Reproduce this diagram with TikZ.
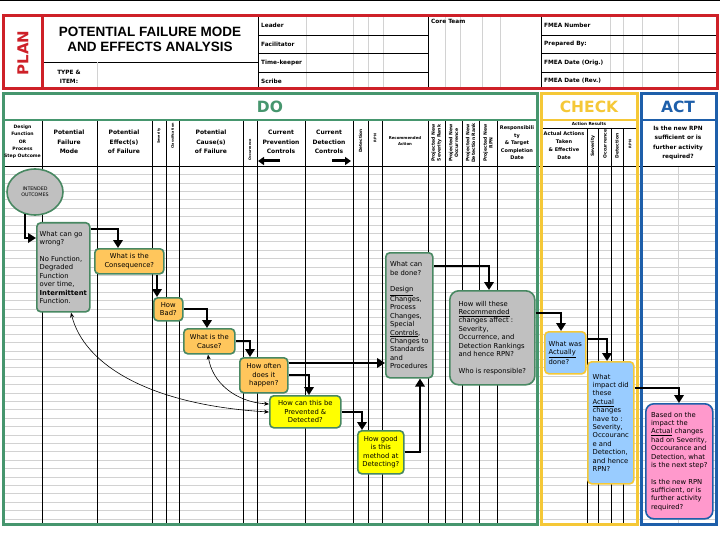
\documentclass[tikz,border=0pt]{standalone}
\usepackage{fontspec}
\setmainfont{DejaVu Sans}
\newfontfamily\titlefont{Liberation Sans}
\usetikzlibrary{arrows.meta,shapes.geometric}

\definecolor{planred}{RGB}{206,32,40}
\definecolor{dogreen}{RGB}{70,150,110}
\definecolor{checkyellow}{RGB}{245,200,55}
\definecolor{actblue}{RGB}{30,95,170}
\definecolor{edgegreen}{RGB}{72,136,98}
\definecolor{fillgray}{RGB}{192,192,192}
\definecolor{fillorange}{RGB}{255,198,92}
\definecolor{fillyellow}{RGB}{255,255,0}
\definecolor{fillblue}{RGB}{153,204,255}
\definecolor{fillpink}{RGB}{255,153,204}
\definecolor{gridline}{RGB}{210,210,210}

\begin{document}
\begin{tikzpicture}[x=1pt, y=-1pt,
		question/.style={rectangle, rounded corners=4pt, draw=edgegreen, line width=1.6pt, inner sep=2pt, align=center, anchor=north west, font=\fontsize{6.8}{8.4}\selectfont},
		orangebox/.style={question, fill=fillorange},
		yellowbox/.style={question, fill=fillyellow},
		graybox/.style={question, fill=fillgray, align=left},
		bluebox/.style={question, fill=fillblue, draw=checkyellow, align=left},
		pinkbox/.style={question, fill=fillpink, draw=actblue, align=left, rounded corners=8pt},
		colhead/.style={inner sep=0pt, align=center, font=\bfseries\fontsize{6}{9.5}\selectfont},
		sidehead/.style={inner sep=0pt, align=center, rotate=90, font=\bfseries\fontsize{#1}{#1}\selectfont},
		projhead/.style={inner sep=0pt, align=center, rotate=90, font=\bfseries\fontsize{4.6}{5.6}\selectfont},
		rowhead/.style={inner sep=0pt, anchor=west, font=\bfseries\fontsize{5.8}{7}\selectfont},
		phase/.style={inner sep=0pt, font=\bfseries\fontsize{15.5}{18}\selectfont},
		gridrule/.style={draw=gridline, line width=0.5pt},
		colrule/.style={draw=black, line width=0.6pt},
		hdrarrow/.style={line width=3pt, -{Triangle[length=6pt,width=8pt]}},
		backlink/.style={line width=0.6pt, {Stealth[length=5pt,width=4pt]}-{Stealth[length=5pt,width=4pt]}}
	]
	\useasboundingbox (0,0) rectangle (720,540);
	\fill[white] (0,0) rectangle (720,540);
	\draw[line width=1pt] (0,1) -- (720,1);

	\foreach \gy in {0,...,41}
		\draw[gridrule] (3,{174.4+8.4*\gy}) -- (717,{174.4+8.4*\gy});
	\foreach \gx in {306,353,368,383,445,460,482,500,610,623,642,678}
		\draw[gridrule] (\gx,16) -- (\gx,89);
	\draw[gridrule] (678,166) -- (678,524);

	\foreach \cx in {42,97,152,166,179,243,257,305,353,368,382,428,445,462,479,497}
		\draw[colrule] (\cx,120) -- (\cx,524);
	\foreach \cx in {587,598,611,623}
		\draw[colrule] (\cx,128) -- (\cx,524);
	\draw[colrule] (541,128) -- (637,128);
	\draw[colrule] (3,166) -- (716,166);

	\draw[colrule] (42,62) -- (258,62);
	\draw[gridrule] (97,62) -- (97,89);
	\draw[colrule] (258,16) -- (258,89);
	\draw[colrule] (428,16) -- (428,89);
	\draw[colrule] (541,16) -- (541,89);
	\foreach \ry in {35,53,72} {
		\draw[colrule] (258,\ry) -- (428,\ry);
		\draw[colrule] (541,\ry) -- (717,\ry);
	}

	\draw[planred, line width=3pt] (3,16) rectangle (717,89);
	\draw[planred, line width=3pt] (42,16) -- (42,89);
	\draw[dogreen, line width=3pt] (3,94) rectangle (537,524);
	\draw[dogreen, line width=2.5pt] (3,120) -- (537,120);
	\draw[checkyellow, line width=3pt] (541,94) rectangle (637,524);
	\draw[checkyellow, line width=2.5pt] (541,120) -- (637,120);
	\draw[actblue, line width=3pt] (641,94) rectangle (716,524);
	\draw[actblue, line width=2.5pt] (641,120) -- (716,120);

	\node[phase, rotate=90, text=planred, font=\bfseries\fontsize{15}{18}\selectfont] (plan) at (23,53) {PLAN};
	\node[inner sep=0pt, align=center, font=\titlefont\bfseries\fontsize{13.5}{15}\selectfont] (fmeatitle) at (150,39.5) {POTENTIAL FAILURE MODE\\AND EFFECTS ANALYSIS};
	\node[colhead, font=\bfseries\fontsize{5.8}{9}\selectfont] (typeitem) at (69,76.5) {TYPE \&\\ITEM:};
	\node[rowhead] (leader) at (261,25) {Leader};
	\node[rowhead] (facilitator) at (261,44) {Facilitator};
	\node[rowhead] (timekeeper) at (261,63) {Time-keeper};
	\node[rowhead] (scribe) at (261,81) {Scribe};
	\node[rowhead] (coreteam) at (431,21) {Core Team};
	\node[rowhead] (fmeanumber) at (544,25) {FMEA Number};
	\node[rowhead] (preparedby) at (544,44) {Prepared By:};
	\node[rowhead] (dateorig) at (544,63) {FMEA Date (Orig.)};
	\node[rowhead] (daterev) at (544,81) {FMEA Date (Rev.)};

	\node[phase, text=dogreen] (do) at (270,106.5) {DO};
	\node[phase, text=checkyellow] (check) at (589,106.5) {CHECK};
	\node[phase, text=actblue] (act) at (678,106.5) {ACT};

	\node[colhead, font=\bfseries\fontsize{4.6}{7.3}\selectfont] (designfunction) at (22.5,142) {Design\\Function\\OR\\Process\\Step Outcome};
	\node[colhead] (failuremode) at (69,142) {Potential\\Failure\\Mode};
	\node[colhead] (failureeffect) at (124,142) {Potential\\Effect(s)\\of Failure};
	\node[sidehead=3.4] (severity) at (159,136) {Severity};
	\node[sidehead=3.4] (classification) at (172.5,136) {Classification};
	\node[colhead] (failurecause) at (211,142) {Potential\\Cause(s)\\of Failure};
	\node[sidehead=3.4] (occurrence) at (250,150) {Occurrence};
	\node[colhead] (preventioncontrols) at (281,142) {Current\\Prevention\\Controls};
	\node[colhead] (detectioncontrols) at (329,142) {Current\\Detection\\Controls};
	\node[sidehead=4.3] (detection) at (360.5,141) {Detection};
	\node[sidehead=3.5] (rpn) at (375,138) {RPN};
	\node[colhead, font=\bfseries\fontsize{3.9}{6}\selectfont] (recommendedaction) at (405,141) {Recommended\\Action};
	\node[projhead] (newseverity) at (436.5,143) {Projected New\\Severity Rank};
	\node[projhead] (newoccurrence) at (453.5,143) {Projected New\\Occurrence};
	\node[projhead] (newdetection) at (470.5,143) {Projected New\\Detection Rank};
	\node[projhead] (newrpn) at (488,143) {Projected New\\RPN};
	\node[colhead, font=\bfseries\fontsize{5}{7.5}\selectfont] (responsibility) at (517,143) {Responsibili\\ty\\\& Target\\Completion\\Date};
	\node[colhead, font=\bfseries\fontsize{4.2}{5}\selectfont] (actionresults) at (589,124) {Action Results};
	\node[colhead, font=\bfseries\fontsize{5}{8}\selectfont] (actualactions) at (564,146) {Actual Actions\\Taken\\\& Effective\\Date};
	\node[sidehead=4.5] (checkseverity) at (593,146) {Severity};
	\node[sidehead=4.5] (checkoccurrence) at (605,144) {Occurrence};
	\node[sidehead=4.5] (checkdetection) at (617,146) {Detection};
	\node[sidehead=3.5] (checkrpn) at (630,144) {RPN};
	\node[colhead, font=\bfseries\fontsize{5.8}{9.3}\selectfont] (actquestion) at (678,143) {Is the new RPN\\sufficient or is\\further activity\\required?};

	\coordinate (preventiontail) at (280,161);
	\coordinate (preventiontip) at (258,161);
	\coordinate (detectiontail) at (332,161);
	\coordinate (detectiontip) at (351,161);
	\draw[hdrarrow] (preventiontail) -- (preventiontip);
	\draw[hdrarrow] (detectiontail) -- (detectiontip);

	\node[ellipse, draw=edgegreen, line width=1.6pt, fill=fillgray, minimum width=56pt, minimum height=46pt, inner sep=0pt, align=center, font=\fontsize{4.8}{6.5}\selectfont] (intendedoutcomes) at (35,192) {INTENDED\\OUTCOMES};
	\node[graybox, minimum width=53pt, minimum height=89pt] (gowrong) at (36,222) {What can go\\wrong?\\[8.4pt]No Function,\\Degraded\\Function\\over time,\\\textbf{Intermittent}\\Function.};
	\node[orangebox, minimum width=69pt, minimum height=25pt] (consequence) at (94,248) {What is the\\Consequence?};
	\node[orangebox, minimum width=29pt, minimum height=23pt] (howbad) at (153,297) {How\\Bad?};
	\node[orangebox, minimum width=51pt, minimum height=25pt] (cause) at (183,328) {What is the\\Cause?};
	\node[orangebox, minimum width=48pt, minimum height=35pt] (howoften) at (239,357) {How often\\does it\\happen?};
	\node[yellowbox, minimum width=71pt, minimum height=32pt] (prevented) at (269,395) {How can this be\\Prevented \&\\Detected?};
	\node[yellowbox, minimum width=46pt, minimum height=43pt] (howgood) at (357,430) {How good\\is this\\method at\\Detecting?};
	\node[graybox, minimum width=47pt, minimum height=125pt] (canbedone) at (385,252) {What can\\be done?\\[8.3pt]\underline{Design}\\Changes,\\Process\\Changes,\\Special\\\underline{Controls},\\Changes to\\Standards\\and\\Procedures};
	\node[graybox, rounded corners=9pt, minimum width=85pt, minimum height=94pt] (recommended) at (449,290) {How will these\\\underline{Recommended}\\changes affect :\\Severity,\\Occurrence, and\\Detection Rankings\\and hence RPN?\\[8.3pt]Who is responsible?};
	\node[bluebox, minimum width=41pt, minimum height=42pt] (actuallydone) at (544,331) {What was\\\underline{Actually}\\done?};
	\node[bluebox, minimum width=46pt, minimum height=122pt] (actualimpact) at (587,361) {What\\impact did\\these\\\underline{Actual}\\changes\\have to :\\Severity,\\Occouranc\\e and\\Detection,\\and hence\\RPN?};
	\node[pinkbox, minimum width=67pt, minimum height=115pt] (nextstep) at (645,403) {Based on the\\impact the\\\underline{Actual} changes\\had on Severity,\\Occourance and\\Detection, what\\is the next step?\\[8.3pt]Is the new RPN\\sufficient, or is\\further activity\\required?};

	\coordinate (badentry) at ([xshift=4pt]howbad.north west);
	\coordinate (oftenexit) at ([yshift=-6pt]howoften.north east);
	\begin{scope}[line width=2pt, -{Triangle[length=8pt,width=9.5pt]}]
	\draw (intendedoutcomes.-115) |- ([yshift=-16pt]gowrong.north west);
	\draw ([yshift=-7pt]gowrong.north east) -| ([xshift=24pt]consequence.north west);
	\draw (badentry |- consequence.south) -- (badentry);
	\draw (howbad.east) -| ([xshift=24pt]cause.north west);
	\draw (cause.east) -| ([xshift=11pt]howoften.north west);
	\draw (howoften.east) -| ([xshift=40pt]prevented.north west);
	\draw (oftenexit) -- (oftenexit -| canbedone.west);
	\draw (prevented.east) -| ([xshift=5pt]howgood.north west);
	\draw (howgood.east) -| ([xshift=35pt]canbedone.south west);
	\draw ([yshift=-14pt]canbedone.north east) -| ([xshift=40pt]recommended.north west);
	\draw ([yshift=-23pt]recommended.north east) -| ([xshift=17pt]actuallydone.north west);
	\draw ([yshift=-8pt]actuallydone.north east) -| ([xshift=20pt]actualimpact.north west);
	\draw ([yshift=-27pt]actualimpact.north east) -| ([xshift=34pt]nextstep.north west);
	\end{scope}
	\draw[backlink] ([xshift=35pt]gowrong.south west) .. controls (84,365) and (150,405) .. ([yshift=-17pt]prevented.north west);
	\draw[backlink] ([xshift=25pt]cause.south west) .. controls (212,382) and (235,402) .. ([yshift=-9pt]prevented.north west);
\end{tikzpicture}
\end{document}
